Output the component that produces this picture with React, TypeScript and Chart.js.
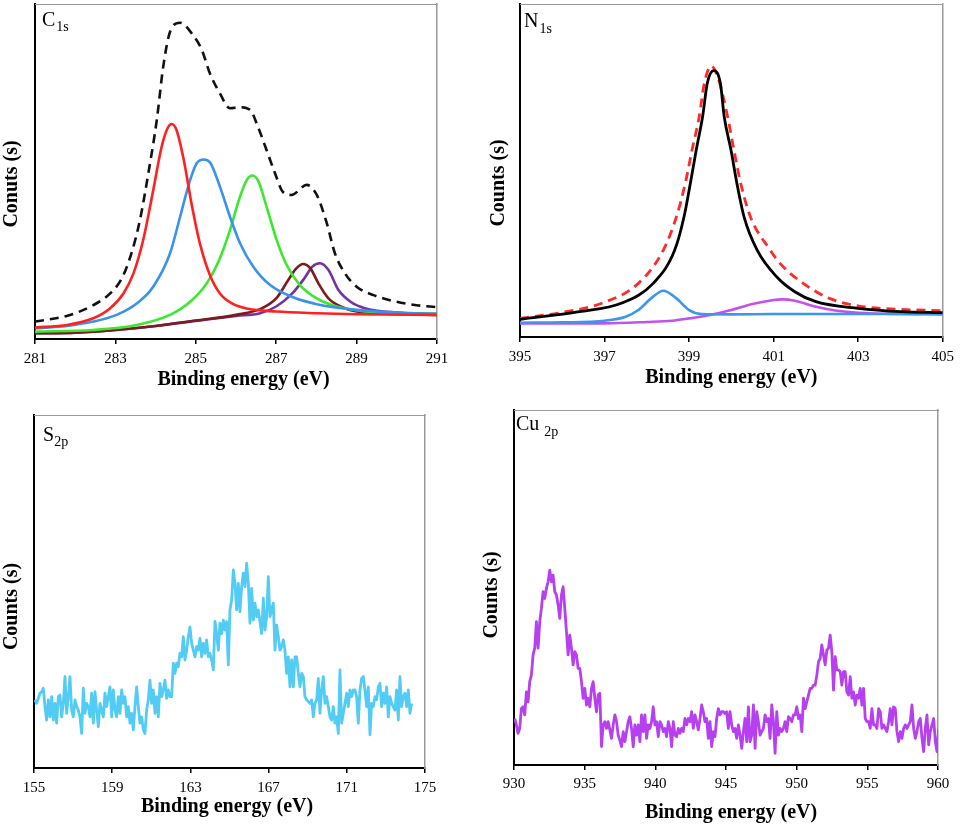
import React, { useEffect, useRef } from 'react';
import { Chart, registerables } from 'chart.js';

Chart.register(...registerables);

const SERIF = '"Liberation Serif", "Times New Roman", serif';

// ---------------- C1s ----------------
const C1S_TICKS = [281, 283, 285, 287, 289, 291];
const C1S_ENV_E = [281.0, 281.79, 282.45, 282.87, 283.16, 283.4, 283.61, 283.82, 284.03, 284.19, 284.36, 284.61, 284.9, 285.15, 285.35, 285.6, 285.85, 286.1, 286.35, 286.56, 286.76, 286.97, 287.16, 287.38, 287.76, 288.01, 288.26, 288.46, 288.71, 289.0, 289.42, 290.0, 290.49, 291.0];
const C1S_ENV = [5.2, 6.9, 10.1, 13.6, 18.1, 25.6, 35.5, 49.5, 65.4, 81.3, 91.7, 94.4, 91.2, 86.3, 79.3, 73.3, 68.9, 69.2, 68.4, 62.9, 56.4, 49.5, 44.0, 43.0, 46.0, 43.0, 34.5, 25.6, 19.6, 15.6, 13.1, 11.1, 10.1, 9.5];
const C1S_RED_E = [281.0, 281.8, 282.45, 282.87, 283.2, 283.45, 283.7, 283.95, 284.15, 284.3, 284.4, 284.52, 284.7, 284.9, 285.1, 285.35, 285.6, 285.9, 286.3, 287.0, 288.0, 289.0, 291.0];
const C1S_RED = [3.4, 4.2, 6.2, 9.2, 13.6, 19.6, 30.0, 45.0, 57.4, 63.0, 64.2, 62.4, 53.5, 40.0, 28.6, 19.1, 13.6, 10.6, 9.0, 8.2, 7.7, 7.4, 7.2];
const C1S_BLUE_E = [281.0, 281.79, 282.45, 283.03, 283.53, 283.94, 284.36, 284.61, 284.86, 285.03, 285.2, 285.36, 285.6, 285.85, 286.1, 286.43, 286.85, 287.39, 288.01, 289.0, 290.0, 291.0];
const C1S_BLUE = [3.2, 3.9, 5.2, 7.2, 10.6, 15.6, 25.6, 36.5, 47.5, 52.6, 53.6, 52.6, 45.5, 36.5, 28.6, 21.6, 16.1, 12.6, 10.4, 8.7, 7.9, 7.5];
const C1S_GREEN_E = [281.0, 282.45, 283.53, 284.36, 284.86, 285.27, 285.6, 285.85, 286.1, 286.27, 286.41, 286.56, 286.76, 287.01, 287.26, 287.59, 288.01, 288.5, 289.25, 290.0, 291.0];
const C1S_GREEN = [2.2, 2.7, 4.2, 7.2, 11.1, 16.6, 24.1, 32.5, 42.5, 47.5, 48.8, 47.0, 39.5, 29.6, 22.1, 16.1, 12.1, 9.7, 8.2, 7.7, 7.5];
const C1S_BROWN_E = [281.0, 282.0, 283.0, 284.0, 285.0, 286.0, 286.6, 287.0, 287.3, 287.5, 287.67, 287.85, 288.05, 288.3, 288.6, 289.0, 290.0, 291.0];
const C1S_BROWN = [1.7, 1.9, 2.7, 3.9, 5.5, 7.2, 8.9, 12.1, 17.6, 21.1, 22.4, 21.1, 16.6, 12.1, 9.7, 8.2, 7.5, 7.2];
const C1S_PURPLE_E = [281.0, 282.0, 283.0, 284.0, 285.0, 286.0, 286.6, 287.0, 287.4, 287.7, 287.9, 288.09, 288.3, 288.55, 288.85, 289.2, 290.0, 291.0];
const C1S_PURPLE = [1.7, 1.9, 2.7, 3.9, 5.4, 6.9, 7.7, 9.7, 13.6, 18.1, 21.6, 22.6, 20.6, 14.6, 11.1, 9.2, 7.9, 7.5];

// ---------------- N1s ----------------
const N1S_TICKS = [395, 397, 399, 401, 403, 405];
const N1S_ENV_E = [395.0, 396.0, 396.95, 397.8, 398.39, 398.7, 398.91, 399.07, 399.24, 399.36, 399.52, 399.68, 399.91, 400.06, 400.22, 400.45, 400.92, 401.15, 401.7, 402.32, 403.02, 404.0, 405.0];
const N1S_ENV = [5.6, 7.4, 10.2, 16.1, 26.1, 36.1, 46.2, 56.2, 66.2, 76.2, 81.4, 78.0, 66.2, 56.2, 46.2, 36.1, 26.1, 22.1, 16.1, 11.6, 9.3, 8.3, 7.9];
const N1S_FIT_E = [395.0, 396.4, 397.41, 398.15, 398.66, 398.88, 399.03, 399.17, 399.32, 399.43, 399.58, 399.74, 399.83, 399.99, 400.13, 400.3, 400.61, 401.07, 401.5, 402.0, 403.0, 404.0, 405.0];
const N1S_FIT = [5.3, 7.6, 10.2, 16.1, 26.1, 36.1, 46.2, 56.2, 66.2, 76.2, 80.0, 76.2, 66.2, 56.2, 46.2, 36.1, 26.1, 18.1, 13.6, 10.6, 8.6, 7.6, 7.3];
const N1S_BLUE_E = [395.0, 396.0, 397.0, 397.5, 397.8, 398.1, 398.39, 398.7, 399.0, 399.3, 400.0, 401.0, 403.0, 405.0];
const N1S_BLUE = [4.3, 4.4, 4.9, 6.1, 8.1, 11.6, 13.9, 11.6, 8.1, 6.9, 6.8, 6.9, 6.9, 6.9];
const N1S_PINK_E = [395.0, 396.0, 397.0, 398.0, 398.6, 399.0, 399.5, 400.0, 400.5, 401.0, 401.2, 401.5, 402.0, 402.5, 403.0, 404.0, 405.0];
const N1S_PINK = [4.1, 4.1, 4.1, 4.5, 4.9, 5.6, 6.6, 8.1, 9.9, 11.1, 11.3, 10.9, 9.1, 7.9, 7.3, 6.9, 6.8];

// ---------------- S2p ----------------
const S2P_TICKS = [155, 159, 163, 167, 171, 175];
const S2P_START = 155.05;
const S2P_STEP = 0.08525;
const S2P_COUNTS = [
  19.3, 18.3, 19.7, 21.2, 21.6, 22.6, 17.4, 13.6, 19.3, 14.5,
  20.2, 13.6, 18.3, 12.7, 20.2, 20.7, 14.5, 18.3, 25.9, 15.5,
  20.2, 25.9, 16.4, 14.5, 19.3, 17.4, 16.4, 14.5, 9.8, 22.6,
  15.5, 18.3, 17.4, 14.5, 21.2, 12.7, 21.6, 16.4, 11.7, 18.3,
  16.4, 14.5, 21.2, 17.4, 20.2, 23.0, 14.5, 22.1, 16.4, 14.5,
  20.2, 15.5, 22.1, 18.3, 20.2, 14.5, 17.4, 12.7, 15.5, 10.8,
  17.4, 23.0, 17.4, 12.7, 14.5, 10.8, 9.8, 16.4, 19.3, 24.9,
  18.3, 22.1, 15.5, 20.2, 14.5, 24.0, 20.2, 22.1, 24.9, 19.7,
  22.1, 20.2, 20.2, 29.7, 26.8, 29.7, 28.7, 32.5, 31.5, 37.2,
  30.6, 33.4, 37.2, 40.0, 35.3, 33.4, 31.5, 34.4, 33.4, 36.7,
  31.5, 35.3, 32.5, 36.3, 31.5, 32.5, 30.6, 27.8, 41.5, 38.1,
  33.4, 41.0, 38.1, 41.9, 39.1, 41.5, 29.2, 44.8,
  47.6, 56.1, 52.3, 44.8, 52.3, 44.3, 51.4, 55.2, 51.4, 58.0,
  52.3, 41.0, 50.9, 41.9, 46.7, 42.9, 44.8, 41.5, 38.1, 48.1,
  39.1, 42.9, 54.2, 42.9, 44.8, 46.7, 33.4, 40.5, 37.2, 33.4,
  34.4, 36.3, 33.4, 26.8, 31.5, 23.0, 30.6, 23.0, 31.5, 31.5,
  26.8, 23.0, 26.8, 25.9, 20.2, 19.3, 18.8, 18.3, 19.3, 14.5,
  18.3, 19.3, 25.4, 15.5, 22.1, 25.9, 18.3, 20.2, 17.4, 14.5,
  13.6, 17.4, 12.7, 14.5, 9.8, 27.8, 12.7, 15.5, 18.3, 21.2,
  17.4, 22.1, 20.2, 22.1, 22.1, 20.2, 12.7, 22.1, 25.4, 25.9,
  22.1, 17.4, 23.0, 9.4, 18.3, 17.4, 20.2, 19.3, 23.0, 24.0,
  17.4, 21.2, 18.3, 23.0, 14.5, 20.2, 18.3, 17.4, 16.4, 22.1,
  13.6, 25.9, 17.4, 20.2, 21.2, 17.4, 22.1, 15.5, 18.3,
];

// ---------------- Cu2p ----------------
const CU_TICKS = [930, 935, 940, 945, 950, 955, 960];
const CU_START = 930.05;
const CU_STEP = 0.1181;
const CU_COUNTS = [
  13.1, 11.3, 8.9, 10.3, 15.9, 16.4, 14.1, 20.6, 17.8, 23.5,
  25.3, 31.0, 32.9, 40.4, 32.9, 40.4, 44.1, 48.8, 46.9, 49.8,
  51.6, 54.9, 51.6, 53.5, 48.8, 47.9, 45.1, 41.3, 47.9, 50.2,
  44.1, 37.6, 31.0, 36.6, 32.9, 28.2, 31.9, 31.0, 27.2, 27.2,
  23.5, 18.8, 21.6, 16.9, 18.8, 16.4, 21.6, 23.5, 18.8, 15.0,
  19.7, 20.2, 5.2, 11.3, 12.2, 10.3, 12.2, 9.9, 7.5, 11.3,
  14.1, 12.2, 8.4, 7.0, 5.2, 9.4, 6.6, 9.4, 12.2, 13.6,
  10.3, 5.2, 11.3, 8.4, 11.3, 6.6, 14.1, 9.4, 14.1, 7.5,
  11.3, 10.3, 12.2, 16.4, 11.3, 12.2, 8.0, 12.2, 11.3, 9.4,
  10.3, 8.0, 12.2, 10.3, 5.2, 12.2, 8.4, 8.0, 10.3, 8.9,
  10.3, 9.4, 13.1, 11.3, 13.1, 12.2, 15.0, 10.3, 14.1, 12.2,
  9.9, 13.1, 16.9, 15.0, 12.2, 13.1, 7.5, 12.2, 5.2, 9.4,
  8.0, 13.1, 15.9, 14.1, 15.0, 15.0, 14.5,
  15.0, 10.3, 15.0, 11.3, 9.4, 10.3, 7.5, 11.3, 8.4, 4.7,
  9.4, 13.1, 6.6, 16.4, 6.6, 8.4, 16.9, 4.7, 15.0, 12.2,
  8.4, 9.4, 10.3, 14.1, 12.2, 13.1, 7.5, 16.9, 12.2, 3.3,
  15.0, 8.4, 10.3, 9.4, 10.3, 12.2, 9.4, 13.6, 13.1, 12.2,
  14.1, 14.1, 16.4, 13.1, 14.1, 9.4, 18.8, 15.9, 17.8, 19.7,
  21.6, 21.6, 22.5, 22.5, 25.3, 29.1, 30.0, 33.8, 31.0, 28.2,
  32.4, 32.9, 36.6, 31.9, 21.1, 30.5, 26.8, 26.8, 26.3, 22.5,
  26.3, 26.3, 20.6, 19.7, 24.9, 18.8, 20.6, 16.9, 19.7, 18.8,
  21.6, 16.9, 21.6, 13.1, 12.2, 12.2, 10.3, 15.9, 11.3, 11.3,
  10.3, 15.9, 15.0, 10.3, 11.3, 10.3, 9.4, 12.2, 15.9, 11.3,
  16.4, 15.9, 9.4, 6.6, 9.4, 7.5, 10.3, 11.3, 10.3, 11.3,
  12.2, 16.9, 10.3, 7.5, 9.4, 12.2, 13.1, 7.5, 3.8, 10.3,
  14.1, 5.7, 9.4, 11.3, 13.1, 6.6, 3.8, 10.3,
];

function pairs(xs: number[], ys: number[]) {
  return xs.map((x, i) => ({ x, y: ys[i] }));
}
function sampled(start: number, step: number, ys: number[]) {
  return ys.map((y, i) => ({ x: start + i * step, y }));
}
// pad a title with spaces so that its centre shifts along the axis
function padTitle(text: string, lead: number, trail: number) {
  return ' '.repeat(lead) + text + ' '.repeat(trail);
}

function smooth(label: string, data: any[], color: string, width: number, dash?: number[]) {
  return {
    label,
    data,
    borderColor: color,
    backgroundColor: color,
    borderWidth: width,
    borderDash: dash || [],
    pointRadius: 0,
    fill: false,
    cubicInterpolationMode: 'monotone',
    xAxisID: 'x',
    yAxisID: 'y',
  };
}
function jagged(label: string, data: any[], color: string, width: number) {
  return {
    label,
    data,
    borderColor: color,
    backgroundColor: color,
    borderWidth: width,
    pointRadius: 0,
    fill: false,
    tension: 0,
    borderJoinStyle: 'round',
    xAxisID: 'x',
    yAxisID: 'y',
  };
}

type Panel = {
  key: string;
  left: number;
  top: number;
  w: number;
  h: number;
  area: { l: number; t: number; r: number; b: number };
  xMin: number;
  xMax: number;
  ticks: number[];
  tickPad: number;
  xTitleY: number;
  xTitle: string;
  yTitleX: number;
  yTitle: string;
  datasets: any[];
  label: { main: string; sub: string; x: number; baseline: number; subShift: number; gap: number };
};

const X_TITLE = 'Binding energy (eV)';

const PANELS: Panel[] = [
  {
    key: 'c1s', left: 0, top: 0, w: 480, h: 400,
    area: { l: 35, t: 4, r: 437, b: 339 },
    xMin: 281, xMax: 291, ticks: C1S_TICKS, tickPad: 6, xTitleY: 380, yTitleX: 12,
    xTitle: padTitle(X_TITLE, 3, 0),
    yTitle: padTitle('Conuts (s)', 0, 5),
    datasets: [
      smooth('C–C', pairs(C1S_RED_E, C1S_RED), '#FF2020', 2.6),
      smooth('C–N', pairs(C1S_BLUE_E, C1S_BLUE), '#3A92EA', 2.6),
      smooth('C–O', pairs(C1S_GREEN_E, C1S_GREEN), '#3BE82E', 2.6),
      smooth('C=O', pairs(C1S_BROWN_E, C1S_BROWN), '#7D1A1A', 2.6),
      smooth('O–C=O', pairs(C1S_PURPLE_E, C1S_PURPLE), '#7232A2', 2.6),
      smooth('Envelope', pairs(C1S_ENV_E, C1S_ENV), '#111111', 2.6, [9, 6]),
    ],
    label: { main: 'C', sub: '1s', x: 42, baseline: 26, subShift: 5, gap: 1 },
  },
  {
    key: 'n1s', left: 480, top: 0, w: 480, h: 400,
    area: { l: 40, t: 4, r: 468, b: 337 },
    xMin: 395, xMax: 405, ticks: N1S_TICKS, tickPad: 6, xTitleY: 378, yTitleX: 19,
    xTitle: X_TITLE,
    yTitle: padTitle('Counts (s)', 0, 5),
    datasets: [
      smooth('Fit', pairs(N1S_FIT_E, N1S_FIT), '#000000', 2.8),
      smooth('Pyridinic N', pairs(N1S_BLUE_E, N1S_BLUE), '#3A97EA', 2.6),
      smooth('Graphitic N', pairs(N1S_PINK_E, N1S_PINK), '#C452EA', 2.6),
      smooth('Envelope', pairs(N1S_ENV_E, N1S_ENV), '#FF2A2A', 2.8, [9, 6]),
    ],
    label: { main: 'N', sub: '1s', x: 44, baseline: 27, subShift: 6, gap: 1 },
  },
  {
    key: 's2p', left: 0, top: 405, w: 480, h: 421,
    area: { l: 34, t: 10, r: 425, b: 363 },
    xMin: 155, xMax: 175, ticks: S2P_TICKS, tickPad: 6, xTitleY: 402, yTitleX: 12,
    xTitle: padTitle(X_TITLE, 0, 1),
    yTitle: padTitle('Counts (s)', 0, 6),
    datasets: [jagged('S2p', sampled(S2P_START, S2P_STEP, S2P_COUNTS), '#52CCF4', 2.8)],
    label: { main: 'S', sub: '2p', x: 43, baseline: 36, subShift: 5, gap: 0 },
  },
  {
    key: 'cu2p', left: 480, top: 400, w: 480, h: 426,
    area: { l: 34, t: 10, r: 458, b: 365 },
    xMin: 930, xMax: 960, ticks: CU_TICKS, tickPad: 5, xTitleY: 413, yTitleX: 12,
    xTitle: padTitle(X_TITLE, 2, 0),
    yTitle: padTitle('Counts (s)', 0, 3),
    datasets: [jagged('Cu2p', sampled(CU_START, CU_STEP, CU_COUNTS), '#B63FF0', 2.8)],
    label: { main: 'Cu', sub: '2p', x: 36, baseline: 30, subShift: 6, gap: 5 },
  },
];

function PanelChart({ p }: { p: Panel }) {
  const ref = useRef<HTMLCanvasElement | null>(null);
  useEffect(() => {
    if (!ref.current) return;
    const titleFont = { family: SERIF, size: 20, weight: 'bold' as const, lineHeight: 1.2 };
    const chart = new Chart(ref.current, {
      type: 'line',
      data: { datasets: p.datasets },
      options: {
        animation: false,
        responsive: false,
        maintainAspectRatio: false,
        devicePixelRatio: 1,
        layout: { padding: { left: 0, top: p.area.t, right: p.w - p.area.r, bottom: 0 } },
        plugins: {
          legend: { display: false },
          tooltip: { enabled: false },
          title: { display: false },
        },
        elements: { point: { radius: 0 } },
        scales: {
          x: {
            type: 'linear',
            position: 'bottom',
            min: p.xMin,
            max: p.xMax,
            afterBuildTicks: (axis: any) => {
              axis.ticks = p.ticks.map((v) => ({ value: v }));
            },
            afterFit: (s: any) => {
              s.height = p.h - p.area.b;
            },
            border: { display: true, color: '#000', width: 2 },
            grid: { display: true, drawOnChartArea: false, drawTicks: true, tickLength: 5, color: '#000', lineWidth: 1.5 },
            ticks: {
              font: { family: SERIF, size: 15 },
              color: '#000',
              padding: p.tickPad,
              maxRotation: 0,
              autoSkip: false,
              callback: (v: any) => String(v),
            },
            title: {
              display: true,
              text: p.xTitle,
              color: '#000',
              font: titleFont,
              padding: { top: 0, bottom: p.h - p.xTitleY - 12 },
            },
          },
          y: {
            type: 'linear',
            position: 'left',
            min: 0,
            max: 100,
            afterFit: (s: any) => {
              s.width = p.area.l;
            },
            border: { display: true, color: '#000', width: 2 },
            grid: { display: false },
            ticks: { display: false },
            title: {
              display: true,
              text: p.yTitle,
              color: '#000',
              font: titleFont,
              padding: { top: p.yTitleX - 12, bottom: 0 },
            },
          },
          x2: {
            type: 'linear',
            position: 'top',
            min: p.xMin,
            max: p.xMax,
            afterFit: (s: any) => {
              s.height = 0;
            },
            border: { display: true, color: '#9a9a9a', width: 1 },
            grid: { display: false, drawTicks: false },
            ticks: { display: false },
          },
          y2: {
            type: 'linear',
            position: 'right',
            min: 0,
            max: 100,
            afterFit: (s: any) => {
              s.width = 0;
            },
            border: { display: true, color: '#9a9a9a', width: 1.5 },
            grid: { display: false, drawTicks: false },
            ticks: { display: false },
          },
        },
      } as any,
    });
    return () => chart.destroy();
  }, [p]);

  return (
    <div style={{ position: 'absolute', left: p.left, top: p.top, width: p.w, height: p.h }}>
      <canvas ref={ref} width={p.w} height={p.h} style={{ position: 'absolute', left: 0, top: 0, width: p.w, height: p.h }} />
      <div
        style={{
          position: 'absolute',
          left: p.label.x,
          top: p.label.baseline - 17,
          fontFamily: SERIF,
          fontSize: 20,
          lineHeight: '20px',
          color: '#000',
          whiteSpace: 'nowrap',
        }}
      >
        <span>{p.label.main}</span>
        <span style={{ fontSize: 14, position: 'relative', top: p.label.subShift, marginLeft: p.label.gap }}>{p.label.sub}</span>
      </div>
    </div>
  );
}

export default function App() {
  return (
    <div style={{ position: 'absolute', left: 0, top: 0, width: 960, height: 826, background: '#fff', overflow: 'hidden' }}>
      {PANELS.map((p) => (
        <PanelChart key={p.key} p={p} />
      ))}
    </div>
  );
}
